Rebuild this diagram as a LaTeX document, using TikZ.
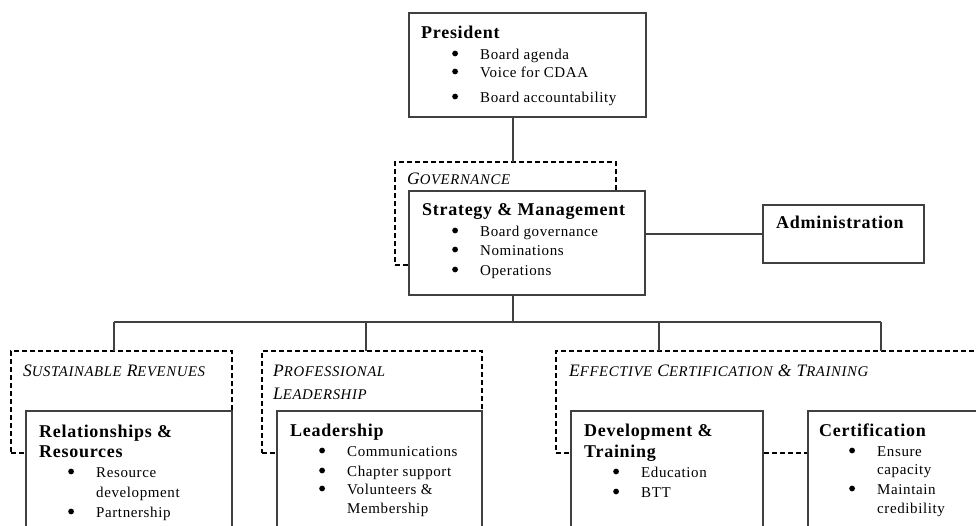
\documentclass[tikz,border=0pt]{standalone}
\usepackage{fontspec}
\setmainfont{Liberation Serif}[LetterSpace=4]
\newcommand\isc[2]{#1{\fontsize{14.8}{15}\selectfont #2}}
\tikzset{
  sbox/.style 2 args={draw=black!75, line width=1.1pt, fill=white, rectangle, inner sep=0pt, outer sep=0pt, anchor=north west, minimum width=#1pt, minimum height=#2pt},
  dbox/.style 2 args={draw=black, line width=2.4pt, dash pattern=on 5pt off 3pt, rectangle, inner sep=0pt, outer sep=0pt, anchor=north west, minimum width=#1pt, minimum height=#2pt},
  conn/.style={draw=black!75, line width=1.1pt},
  head/.style={font=\fontsize{18}{20}\selectfont\bfseries, anchor=base west, inner sep=0pt},
  body/.style={font=\fontsize{15}{17}\selectfont, anchor=base west, inner sep=0pt},
  lab/.style={font=\fontsize{17.5}{18}\selectfont\itshape, anchor=base west, inner sep=0pt},
}
\newcommand\bul[1]{\makebox[28pt][l]{\tikz[baseline=0pt]\fill (3.5pt,5.5pt) circle[radius=2.9pt];}#1}
\begin{document}
\begin{tikzpicture}[x=1pt,y=-1pt]
\useasboundingbox (0,0) rectangle (976,525);
\clip (0,0) rectangle (976,525);
\fill[white] (0,0) rectangle (976,525);
% dashed group boxes
\node[dbox={221}{103}] (gov) at (395,162) {};
\node[dbox={221}{102}] (sus) at (11,351) {};
\node[dbox={220}{102}] (prof) at (262,351) {};
\node[dbox={470}{102}] (eff) at (556,351) {};
% connector coordinates
\coordinate (kx) at (513,0);
\coordinate (busL) at (114,322);
\coordinate (busR) at (881,322);
\coordinate (busP) at (366,322);
\coordinate (busE) at (659,322);
% solid boxes
\node[sbox={237}{104}] (pres) at (409,13) {};
\node[sbox={236}{104}] (strat) at (409,191) {};
\node[sbox={161}{58}] (admin) at (763,205) {};
\node[sbox={206}{150}] (rel) at (26,411) {};
\node[sbox={205}{150}] (lead) at (277,411) {};
\node[sbox={192}{150}] (dev) at (571,411) {};
\node[sbox={200}{150}] (cert) at (808,411) {};
% connectors
\draw[conn] (kx |- pres.south) -- (kx |- gov.north);
\draw[conn] (strat.east |- admin.west) -- (admin.west);
\draw[conn] (kx |- strat.south) -- (kx |- busL);
\draw[conn] (busL) -- (busR);
\draw[conn] (busL) -- (busL |- sus.north);
\draw[conn] (busP) -- (busP |- prof.north);
\draw[conn] (busE) -- (busE |- eff.north);
\draw[conn] (busR) -- (busR |- eff.north);
% group labels
\node[lab] (lgov) at (407,184) {\isc{G}{OVERNANCE}};
\node[lab] (lsus) at (23,376) {\isc{S}{USTAINABLE} \isc{R}{EVENUES}};
\node[lab] (lprof1) at (273,376) {\isc{P}{ROFESSIONAL}};
\node[lab] (lprof2) at (273,399) {\isc{L}{EADERSHIP}};
\node[lab] (leff) at (569,376) {\isc{E}{FFECTIVE} \isc{C}{ERTIFICATION} \& \isc{T}{RAINING}};
% President
\node[head] (pr0) at (421,38) {President};
\node[body] (pr1) at (452,59) {\bul{Board agenda}};
\node[body] (pr2) at (452,77) {\bul{Voice for CDAA}};
\node[body] (pr3) at (452,102) {\bul{Board accountability}};
% Strategy
\node[head] (st0) at (422,215) {Strategy \& Management};
\node[body] (st1) at (452,236) {\bul{Board governance}};
\node[body] (st2) at (452,255) {\bul{Nominations}};
\node[body] (st3) at (452,275) {\bul{Operations}};
% Administration
\node[head] (ad0) at (776,228) {Administration};
% Relationships
\node[head] (re0) at (39,437) {Relationships \&};
\node[head] (re1) at (39,457) {Resources};
\node[body] (re2) at (68,477) {\bul{Resource}};
\node[body] (re3) at (96,497) {development};
\node[body] (re4) at (68,517) {\bul{Partnership}};
% Leadership
\node[head] (le0) at (290,436) {Leadership};
\node[body] (le1) at (319,456) {\bul{Communications}};
\node[body] (le2) at (319,476) {\bul{Chapter support}};
\node[body] (le3) at (319,494) {\bul{Volunteers \&}};
\node[body] (le4) at (347,513) {Membership};
% Development
\node[head] (de0) at (584,436) {Development \&};
\node[head] (de1) at (584,457) {Training};
\node[body] (de2) at (613,477) {\bul{Education}};
\node[body] (de3) at (613,497) {\bul{BTT}};
% Certification
\node[head] (ce0) at (819,436) {Certification};
\node[body] (ce1) at (849,456) {\bul{Ensure}};
\node[body] (ce2) at (877,474) {capacity};
\node[body] (ce3) at (849,494) {\bul{Maintain}};
\node[body] (ce4) at (877,513) {credibility};
\end{tikzpicture}
\end{document}
